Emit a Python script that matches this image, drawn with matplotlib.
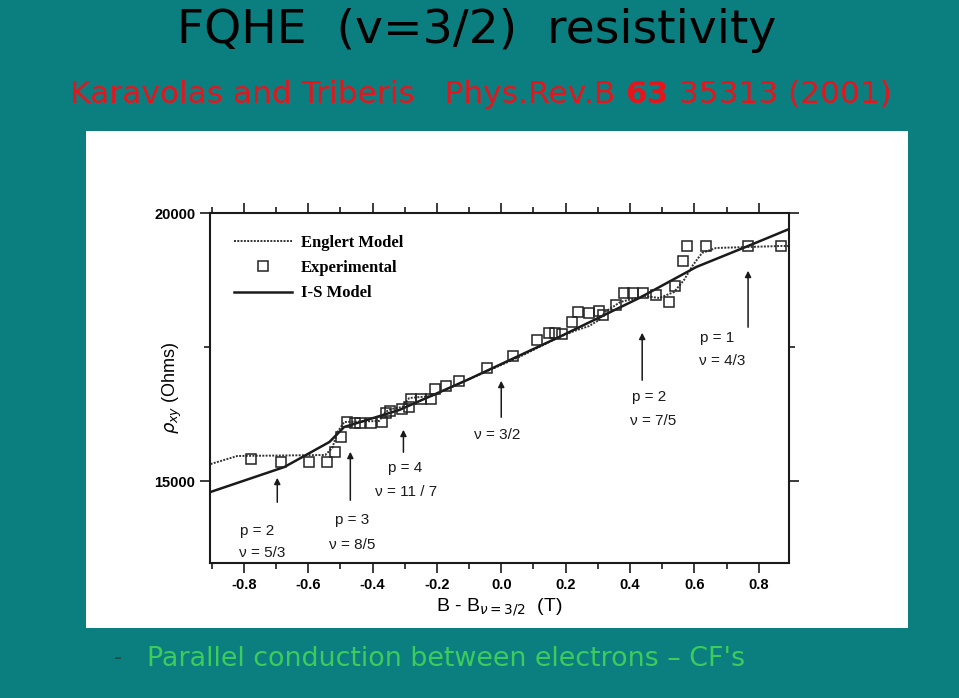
import matplotlib.pyplot as plt
from matplotlib.patches import Rectangle
from matplotlib.lines import Line2D

plt.rcParams['axes.unicode_minus'] = False

# experimental points, B - B(3/2) in T and rho_xy in Ohms
exp_x = [-0.779, -0.683, -0.596, -0.540, -0.516, -0.497, -0.478, -0.453, -0.438, -0.404,
         -0.370, -0.357, -0.345, -0.307, -0.286, -0.280, -0.248, -0.217, -0.205, -0.171,
         -0.130, -0.043, 0.037, 0.112, 0.149, 0.168, 0.190, 0.221, 0.239, 0.273,
         0.304, 0.317, 0.357, 0.382, 0.410, 0.441, 0.481, 0.522, 0.540, 0.565,
         0.578, 0.637, 0.767, 0.870]
exp_y = [15410, 15355, 15355, 15355, 15541, 15821, 16101, 16082, 16082, 16082,
         16101, 16269, 16306, 16344, 16381, 16530, 16530, 16530, 16717, 16773,
         16866, 17109, 17333, 17631, 17762, 17762, 17743, 17967, 18154, 18135,
         18172, 18098, 18284, 18508, 18508, 18508, 18471, 18340, 18639, 19106,
         19385, 19385, 19385, 19385]

# Englert model (dotted)
englert_x = [-0.913, -0.820, -0.547, -0.525, -0.509, -0.488, -0.379, -0.360, -0.342, -0.307,
             -0.286, -0.214, -0.106, 0.056, 0.180, 0.227, 0.273, 0.304, 0.323, 0.370,
             0.444, 0.491, 0.537, 0.568, 0.596, 0.624, 0.668, 0.870, 0.894]
englert_y = [15299, 15467, 15485, 15616, 15914, 16101, 16120, 16288, 16344, 16381,
             16549, 16586, 16885, 17314, 17687, 17799, 17892, 18004, 18154, 18340,
             18452, 18415, 18527, 18751, 19031, 19255, 19348, 19385, 19385]

# I-S model (solid)
is_x = [-0.913, -0.674, -0.534, -0.488, -0.317, -0.106, 0.180, 0.429, 0.606, 0.767, 0.894]
is_y = [14776, 15261, 15728, 16008, 16325, 16885, 17687, 18415, 18993, 19385, 19700]

# arrows: x, tail y, head y
arrow_x = [0.767, 0.438, 0.0, -0.304, -0.469, -0.696]
arrow_from = [17818, 16829, 16138, 15485, 14589, 14552]
arrow_to = [18975, 17818, 16922, 16008, 15597, 15112]

# filling-factor labels: x, y, text
note_x = [0.671, 0.686, 0.460, 0.472, -0.012, -0.298, -0.295, -0.463, -0.463, -0.758, -0.742]
note_y = [17668, 17239, 16567, 16120, 15858, 15243, 14795, 14272, 13806, 14067, 13656]
note_txt = ['p = 1', 'ν = 4/3', 'p = 2', 'ν = 7/5', 'ν = 3/2', 'p = 4', 'ν = 11 / 7',
            'p = 3', 'ν = 8/5', 'p = 2', 'ν = 5/3']

teal = '#0b7f80'
ink = '#1a1a1a'

fig = plt.figure(figsize=(9.59, 6.98), dpi=100, facecolor=teal)
fig.add_artist(Rectangle((0.0897, 0.1003), 0.857, 0.712, transform=fig.transFigure,
                         facecolor='white', edgecolor='none', zorder=0))

ax = fig.add_axes([0.219, 0.1934, 0.604, 0.5014])
ax.set_facecolor('white')

ax.plot(englert_x, englert_y, color='#333333', lw=1.4, ls=(0, (1, 0.7)))
ax.plot(is_x, is_y, color=ink, lw=1.8)
ax.plot(exp_x, exp_y, 's', mfc='none', mec='#222222', ms=7, mew=1.1)

for x, y0, y1 in zip(arrow_x, arrow_from, arrow_to):
    ax.annotate('', xy=(x, y1), xytext=(x, y0),
                arrowprops=dict(arrowstyle='-|>', color=ink, lw=1.1, mutation_scale=9))
for x, y, s in zip(note_x, note_y, note_txt):
    ax.text(x, y, s, ha='center', va='center', fontsize=11, color=ink,
            family='Liberation Sans')

ax.set_xlim(-0.905, 0.895)
ax.set_ylim(13470, 20000)
ax.set_xticks([-0.8, -0.6, -0.4, -0.2, 0.0, 0.2, 0.4, 0.6, 0.8])
ax.set_xticks([-0.9, -0.7, -0.5, -0.3, -0.1, 0.1, 0.3, 0.5, 0.7], minor=True)
ax.set_yticks([15000, 20000])
ax.set_yticks([17500], minor=True)
ax.tick_params(which='both', direction='out', top=True, right=True, color=ink,
               labelsize=10.5, width=1.2)
ax.tick_params(which='major', length=7)
ax.tick_params(which='minor', length=4)
for lab in ax.get_xticklabels() + ax.get_yticklabels():
    lab.set_fontweight('bold')
    lab.set_family('Liberation Sans')
for sp in ax.spines.values():
    sp.set_linewidth(1.5)
    sp.set_color(ink)

ax.set_xlabel(r'B - B$_{\nu=3/2}$  (T)', fontsize=14, family='Liberation Sans')
ax.set_ylabel(r'$\rho_{xy}$ (Ohms)', fontsize=13, family='Liberation Sans')
ax.xaxis.set_label_coords(0.5, -0.095)
ax.yaxis.set_label_coords(-0.045, 0.5)

handles = [Line2D([], [], color='#333333', lw=1.4, ls=(0, (1, 0.7))),
           Line2D([], [], ls='none', marker='s', mfc='none', mec='#222222', ms=7, mew=1.1),
           Line2D([], [], color=ink, lw=1.8)]
ax.legend(handles, ['Englert Model', 'Experimental', 'I-S Model'], loc='upper left',
          bbox_to_anchor=(0.015, 0.98), frameon=False, handlelength=3.5, handletextpad=0.55,
          labelspacing=0.55, prop={'family': 'Liberation Serif', 'weight': 'bold', 'size': 12})

fig.text(0.497, 0.957, 'FQHE  (v=3/2)  resistivity', ha='center', va='center',
         fontsize=34, color='black', family='DejaVu Sans')
fig.text(0.073, 0.865, 'Karavolas and Triberis   Phys.Rev.B ', ha='left', va='center',
         fontsize=22.5, color='#e8141c', family='DejaVu Sans')
fig.text(0.119, 0.057, '-', ha='left', va='center', fontsize=16, color='#1d4d4d',
         family='DejaVu Sans')
fig.text(0.153, 0.056, "Parallel conduction between electrons – CF's", ha='left',
         va='center', fontsize=19.4, color='#3dcc5b', family='DejaVu Sans')

# the bold volume number in the reference
sub = fig.texts[1]
fig.canvas.draw()
bb = sub.get_window_extent()
x_end = bb.x1 / fig.bbox.width
t63 = fig.text(x_end, 0.865, '63', ha='left', va='center', fontsize=22.5, color='#e8141c',
               family='DejaVu Sans', fontweight='bold')
bb2 = t63.get_window_extent(renderer=fig.canvas.get_renderer())
fig.text(bb2.x1 / fig.bbox.width, 0.865, ' 35313 (2001)', ha='left', va='center',
         fontsize=22.5, color='#e8141c', family='DejaVu Sans')

fig.savefig('out.png', dpi=100, facecolor=teal)
